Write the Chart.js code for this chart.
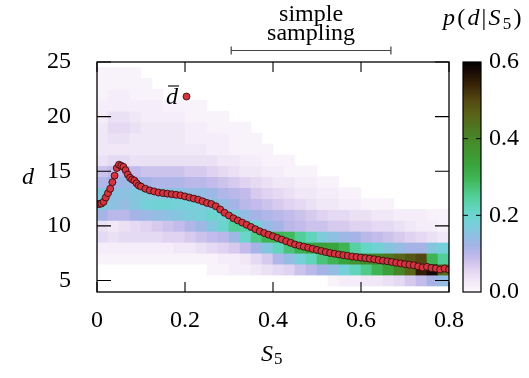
<!DOCTYPE html>
<html>
<head>
<meta charset="utf-8">
<script src="https://cdn.jsdelivr.net/npm/chart.js@4.4.1/dist/chart.umd.min.js"></script>
<style>
  html, body { margin: 0; padding: 0; background: #fff; }
</style>
</head>
<body>
<canvas id="hm_chart" width="529" height="378"></canvas>
<script>
// S5 bin centres (bins of width 0.025)
const sCols = [0.0125, 0.0375, 0.0625, 0.0875, 0.1125, 0.1375, 0.1625, 0.1875,
               0.2125, 0.2375, 0.2625, 0.2875, 0.3125, 0.3375, 0.3625, 0.3875,
               0.4125, 0.4375, 0.4625, 0.4875, 0.5125, 0.5375, 0.5625, 0.5875,
               0.6125, 0.6375, 0.6625, 0.6875, 0.7125, 0.7375, 0.7625, 0.7875];

// d rows, top to bottom
const dRows = [24, 23, 22, 21, 20, 19, 18, 17, 16, 15, 14, 13, 12, 11, 10, 9, 8, 7, 6, 5];

// p(d|S5), one line per d row, one value per S5 bin
const pRows = [
  [0.01,0.01,0.01,0.01,0,0,0,0, 0,0,0,0,0,0,0,0, 0,0,0,0,0,0,0,0, 0,0,0,0,0,0,0,0],
  [0.01,0.01,0.01,0.01,0.01,0,0,0, 0,0,0,0,0,0,0,0, 0,0,0,0,0,0,0,0, 0,0,0,0,0,0,0,0],
  [0.01,0.02,0.02,0.01,0.01,0.01,0,0, 0,0,0,0,0,0,0,0, 0,0,0,0,0,0,0,0, 0,0,0,0,0,0,0,0],
  [0.02,0.02,0.02,0.02,0.02,0.02,0.01,0.01, 0.01,0.01,0,0,0,0,0,0, 0,0,0,0,0,0,0,0, 0,0,0,0,0,0,0,0],
  [0.02,0.04,0.04,0.03,0.02,0.02,0.02,0.02, 0.01,0.01,0.01,0.01,0,0,0,0, 0,0,0,0,0,0,0,0, 0,0,0,0,0,0,0,0],
  [0.03,0.05,0.05,0.04,0.03,0.03,0.03,0.03, 0.02,0.02,0.01,0.01,0.01,0.01,0,0, 0,0,0,0,0,0,0,0, 0,0,0,0,0,0,0,0],
  [0.03,0.04,0.04,0.03,0.03,0.03,0.03,0.03, 0.02,0.02,0.02,0.02,0.01,0.01,0.01,0, 0,0,0,0,0,0,0,0, 0,0,0,0,0,0,0,0],
  [0.03,0.03,0.03,0.03,0.03,0.03,0.03,0.03, 0.03,0.03,0.02,0.02,0.01,0.01,0.01,0.01, 0,0,0,0,0,0,0,0, 0,0,0,0,0,0,0,0],
  [0.04,0.05,0.05,0.04,0.04,0.04,0.04,0.04, 0.04,0.04,0.04,0.03,0.03,0.02,0.02,0.01, 0.01,0.01,0,0,0,0,0,0, 0,0,0,0,0,0,0,0],
  [0.08,0.09,0.10,0.09,0.08,0.08,0.08,0.08, 0.07,0.07,0.06,0.05,0.04,0.03,0.03,0.02, 0.02,0.01,0.01,0.01,0,0,0,0, 0,0,0,0,0,0,0,0],
  [0.11,0.12,0.13,0.13,0.12,0.11,0.11,0.11, 0.10,0.10,0.09,0.08,0.07,0.06,0.05,0.04, 0.03,0.03,0.02,0.02,0.01,0.01,0,0, 0,0,0,0,0,0,0,0],
  [0.16,0.15,0.15,0.16,0.17,0.16,0.15,0.15, 0.14,0.14,0.13,0.11,0.10,0.09,0.07,0.06, 0.05,0.04,0.03,0.03,0.02,0.02,0.01,0.01, 0,0,0,0,0,0,0,0],
  [0.17,0.15,0.14,0.16,0.18,0.19,0.19,0.18, 0.18,0.17,0.16,0.14,0.12,0.10,0.09,0.08, 0.07,0.06,0.05,0.04,0.03,0.03,0.02,0.02, 0.01,0.01,0.01,0,0,0,0,0],
  [0.12,0.10,0.10,0.12,0.13,0.14,0.15,0.16, 0.17,0.18,0.20,0.19,0.17,0.14,0.12,0.11, 0.10,0.09,0.08,0.07,0.06,0.05,0.05,0.04, 0.04,0.03,0.03,0.02,0.02,0.02,0.01,0.01],
  [0.04,0.03,0.04,0.05,0.06,0.07,0.08,0.09, 0.11,0.13,0.16,0.20,0.25,0.24,0.18,0.14, 0.12,0.10,0.09,0.08,0.08,0.07,0.07,0.06, 0.06,0.05,0.05,0.04,0.03,0.02,0.02,0.01],
  [0.05,0.04,0.05,0.05,0.05,0.05,0.06,0.06, 0.07,0.08,0.09,0.10,0.13,0.20,0.26,0.30, 0.30,0.29,0.25,0.22,0.17,0.15,0.13,0.12, 0.10,0.09,0.08,0.07,0.06,0.05,0.04,0.03],
  [0.02,0.02,0.02,0.02,0.02,0.02,0.02,0.03, 0.03,0.04,0.05,0.06,0.07,0.09,0.12,0.16, 0.22,0.27,0.31,0.33,0.34,0.33,0.30,0.24, 0.21,0.19,0.16,0.14,0.12,0.12,0.16,0.18],
  [0.01,0.01,0.01,0.01,0.01,0.01,0.01,0.01, 0.01,0.01,0.01,0.02,0.02,0.03,0.05,0.07, 0.11,0.14,0.18,0.22,0.27,0.30,0.33,0.37, 0.40,0.41,0.43,0.46,0.48,0.50,0.30,0.25],
  [0,0,0,0,0,0,0,0, 0,0,0.01,0.01,0.02,0.02,0.03,0.04, 0.05,0.06,0.08,0.10,0.12,0.14,0.18,0.22, 0.26,0.30,0.34,0.40,0.46,0.55,0.58,0.45],
  [0,0,0,0,0,0,0,0, 0,0,0,0,0,0,0,0, 0,0,0,0,0,0.01,0.02,0.02, 0.03,0.03,0.04,0.05,0.07,0.09,0.12,0.14]
];

// mean d as a function of S5 (red points)
const meanS = [0, 0.005, 0.01, 0.015, 0.02, 0.025, 0.03, 0.035, 0.04, 0.045, 0.05,
               0.055, 0.06, 0.065, 0.07, 0.075, 0.08, 0.085, 0.09, 0.095, 0.10,
               0.11, 0.12, 0.13, 0.14, 0.15, 0.16, 0.17, 0.18, 0.19, 0.20,
               0.21, 0.22, 0.23, 0.24, 0.25, 0.26, 0.27, 0.28, 0.29, 0.30,
               0.31, 0.32, 0.33, 0.34, 0.35, 0.36, 0.37, 0.38, 0.39, 0.40,
               0.41, 0.42, 0.43, 0.44, 0.45, 0.46, 0.47, 0.48, 0.49, 0.50,
               0.51, 0.52, 0.53, 0.54, 0.55, 0.56, 0.57, 0.58, 0.59, 0.60,
               0.61, 0.62, 0.63, 0.64, 0.65, 0.66, 0.67, 0.68, 0.69, 0.70,
               0.71, 0.72, 0.73, 0.74, 0.75, 0.76, 0.77, 0.78, 0.79, 0.80];
const meanD = [12.0, 12.0, 12.05, 12.2, 12.6, 13.0, 13.4, 14.0, 14.6, 15.3, 15.6,
               15.5, 15.4, 15.1, 14.7, 14.4, 14.25, 14.15, 13.9, 13.7, 13.6,
               13.4, 13.25, 13.15, 13.05, 13.0, 12.95, 12.9, 12.85, 12.8, 12.7,
               12.6, 12.5, 12.4, 12.25, 12.1, 12.0, 11.8, 11.5, 11.2, 10.95,
               10.7, 10.5, 10.3, 10.1, 9.9, 9.7, 9.5, 9.35, 9.2, 9.05,
               8.9, 8.75, 8.6, 8.45, 8.3, 8.2, 8.1, 8.0, 7.9, 7.8,
               7.7, 7.6, 7.52, 7.45, 7.38, 7.32, 7.26, 7.2, 7.15, 7.1,
               7.05, 7.0, 6.95, 6.88, 6.82, 6.76, 6.7, 6.63, 6.57, 6.5,
               6.45, 6.4, 6.3, 6.2, 6.25, 6.15, 6.1, 6.0, 6.1, 6.0];

const xTicks = [0, 0.2, 0.4, 0.6, 0.8];
const yTicks = [5, 10, 15, 20, 25];
const cbTicks = [0, 0.2, 0.4, 0.6];
const samplingRange = [0.305, 0.668];

// palette of the colour box
const cmapStops = [
    [0.00, '#fcf8fd'], [0.03, '#f1e8f7'], [0.06, '#dfd3f1'], [0.09, '#c3bbeb'],
    [0.12, '#a6b3e6'], [0.15, '#8dc1e2'], [0.18, '#76d0d9'], [0.21, '#66d6c6'],
    [0.25, '#52cf98'], [0.29, '#40b95c'], [0.33, '#3aa43c'], [0.38, '#43912d'],
    [0.42, '#4b7b23'], [0.46, '#5a6518'], [0.50, '#544812'], [0.54, '#392408'],
    [0.58, '#140803'], [0.60, '#000000']
];
const pMax = 0.6;
const serif = '"Liberation Serif", "DejaVu Serif", serif';

function hexRgb(h) {
    return [parseInt(h.slice(1, 3), 16), parseInt(h.slice(3, 5), 16), parseInt(h.slice(5, 7), 16)];
}

function colorFor(v) {
    if (v >= pMax) return cmapStops[cmapStops.length - 1][1];
    for (let i = 1; i < cmapStops.length; i++) {
        if (v <= cmapStops[i][0]) {
            const [v0, c0] = cmapStops[i - 1], [v1, c1] = cmapStops[i];
            const t = (v - v0) / (v1 - v0);
            const a = hexRgb(c0), b = hexRgb(c1);
            const rgb = a.map((ch, k) => Math.round(ch + (b[k] - ch) * t));
            return `rgb(${rgb[0]},${rgb[1]},${rgb[2]})`;
        }
    }
    return '#000';
}

const heatSets = dRows.map((d, r) => ({
    type: 'bar',
    data: sCols.map((s, i) => ({x: s, y: pRows[r][i] > 0 ? [d - 0.5, d + 0.5] : null})),
    backgroundColor: pRows[r].map(colorFor),
    borderWidth: 0,
    barPercentage: 1,
    categoryPercentage: 1,
    grouped: false,
    order: 2
}));

const meanSet = {
    type: 'scatter',
    data: meanS.map((s, i) => ({x: s, y: meanD[i]})),
    backgroundColor: '#d3343f',
    borderColor: '#2a0808',
    borderWidth: 0.8,
    pointRadius: 3.5,
    order: 0
};

// frame, inward ticks, colour box and the loose labels
const decor = {
    id: 'decor',
    afterDraw(chart) {
        const {ctx, chartArea: a, scales} = chart;
        const x = scales.x, y = scales.y, cb = scales.cb;
        ctx.save();
        ctx.strokeStyle = '#000';
        ctx.lineWidth = 1.3;
        ctx.strokeRect(a.left, a.top, a.right - a.left, a.bottom - a.top);

        ctx.lineWidth = 1.1;
        ctx.beginPath();
        xTicks.forEach(v => {
            const px = x.getPixelForValue(v);
            ctx.moveTo(px, a.bottom); ctx.lineTo(px, a.bottom - 10);
            ctx.moveTo(px, a.top); ctx.lineTo(px, a.top + 10);
        });
        yTicks.forEach(v => {
            const py = y.getPixelForValue(v);
            ctx.moveTo(a.left, py); ctx.lineTo(a.left + 14, py);
            ctx.moveTo(a.right, py); ctx.lineTo(a.right - 14, py);
        });
        ctx.stroke();

        // colour box
        const bx = cb.left + 14, bw = 18;
        const yTop = cb.getPixelForValue(pMax), yBot = cb.getPixelForValue(0);
        const g = ctx.createLinearGradient(0, yBot, 0, yTop);
        cmapStops.forEach(([v, c]) => g.addColorStop(v / pMax, c));
        ctx.fillStyle = g;
        ctx.fillRect(bx, yTop, bw, yBot - yTop);
        ctx.lineWidth = 1.2;
        ctx.strokeRect(bx, yTop, bw, yBot - yTop);
        ctx.lineWidth = 1;
        ctx.beginPath();
        cbTicks.slice(1, -1).forEach(v => {
            const py = cb.getPixelForValue(v);
            ctx.moveTo(bx, py); ctx.lineTo(bx + 5, py);
            ctx.moveTo(bx + bw, py); ctx.lineTo(bx + bw - 5, py);
        });
        ctx.stroke();

        ctx.fillStyle = '#000';
        ctx.textBaseline = 'alphabetic';

        // colour box title p(d|S5)
        const parts = [['p', 'italic 24px', 0], ['(', '24px', 0], ['d', 'italic 24px', 0],
                       ['|', '24px', 0], ['S', 'italic 24px', 0], ['5', '17px', 4], [')', '24px', 0]];
        let tx = cb.left - 6;
        ctx.textAlign = 'left';
        parts.forEach(([t, f, dy]) => {
            ctx.font = `${f} ${serif}`;
            ctx.fillText(t, tx, 25 + dy);
            tx += ctx.measureText(t).width + 2.2;
        });

        // axis titles
        ctx.font = `italic 24px ${serif}`;
        ctx.textAlign = 'center';
        ctx.fillText('d', a.left - 69, 184);
        const cx = (a.left + a.right) / 2;
        ctx.textAlign = 'left';
        ctx.fillText('S', cx - 12, 361);
        const sw = ctx.measureText('S').width;
        ctx.font = `17px ${serif}`;
        ctx.fillText('5', cx - 12 + sw + 1, 364);

        // legend for the mean
        ctx.font = `italic 24px ${serif}`;
        ctx.fillText('d', a.left + 69, a.top + 42);
        ctx.lineWidth = 1.1;
        ctx.beginPath();
        ctx.moveTo(a.left + 71, a.top + 24); ctx.lineTo(a.left + 82, a.top + 24);
        ctx.stroke();
        ctx.beginPath();
        ctx.arc(a.left + 89.5, a.top + 34.5, 3.5, 0, Math.PI * 2);
        ctx.fillStyle = '#d3343f';
        ctx.fill();
        ctx.strokeStyle = '#2a0808';
        ctx.lineWidth = 0.8;
        ctx.stroke();

        // simple sampling bracket
        const sx0 = x.getPixelForValue(samplingRange[0]), sx1 = x.getPixelForValue(samplingRange[1]);
        ctx.strokeStyle = '#444';
        ctx.lineWidth = 1.2;
        ctx.beginPath();
        ctx.moveTo(sx0, 50.5); ctx.lineTo(sx1, 50.5);
        ctx.moveTo(sx0, 46.5); ctx.lineTo(sx0, 54.5);
        ctx.moveTo(sx1, 46.5); ctx.lineTo(sx1, 54.5);
        ctx.stroke();
        ctx.fillStyle = '#000';
        ctx.font = `24px ${serif}`;
        ctx.textAlign = 'center';
        ctx.fillText('simple', (sx0 + sx1) / 2, 21);
        ctx.fillText('sampling', (sx0 + sx1) / 2, 40);
        ctx.restore();
    }
};

const tickFont = {family: serif, size: 24};

try {
    new Chart(document.getElementById('hm_chart').getContext('2d'), {
        data: {datasets: [...heatSets, meanSet]},
        options: {
            responsive: false,
            devicePixelRatio: 1,
            animation: false,
            layout: {padding: {top: 62, left: 0, right: 0, bottom: 0}},
            plugins: {legend: {display: false}, tooltip: {enabled: false}},
            scales: {
                x: {
                    type: 'linear', min: 0, max: 0.8, offset: false,
                    grid: {display: false}, border: {display: false},
                    ticks: {font: tickFont, color: '#000', padding: 6, maxRotation: 0},
                    afterBuildTicks: s => { s.ticks = xTicks.map(v => ({value: v})); },
                    afterFit: s => { s.height = 86; }
                },
                y: {
                    type: 'linear', min: 3.95, max: 25, position: 'left',
                    grid: {display: false, drawTicks: false}, border: {display: false},
                    ticks: {font: tickFont, color: '#000', padding: 26},
                    afterBuildTicks: s => { s.ticks = yTicks.map(v => ({value: v})); },
                    afterFit: s => { s.width = 97; }
                },
                cb: {
                    type: 'linear', axis: 'y', position: 'right', min: 0, max: pMax,
                    grid: {display: false, drawTicks: false}, border: {display: false},
                    ticks: {font: tickFont, color: '#000', padding: 40,
                            callback: v => v.toFixed(1)},
                    afterBuildTicks: s => { s.ticks = cbTicks.map(v => ({value: v})); },
                    afterFit: s => { s.width = 80; }
                }
            }
        },
        plugins: [decor]
    });
} catch (error) {
    console.log(`error: ${error.message}`);
}
</script>
</body>
</html>
